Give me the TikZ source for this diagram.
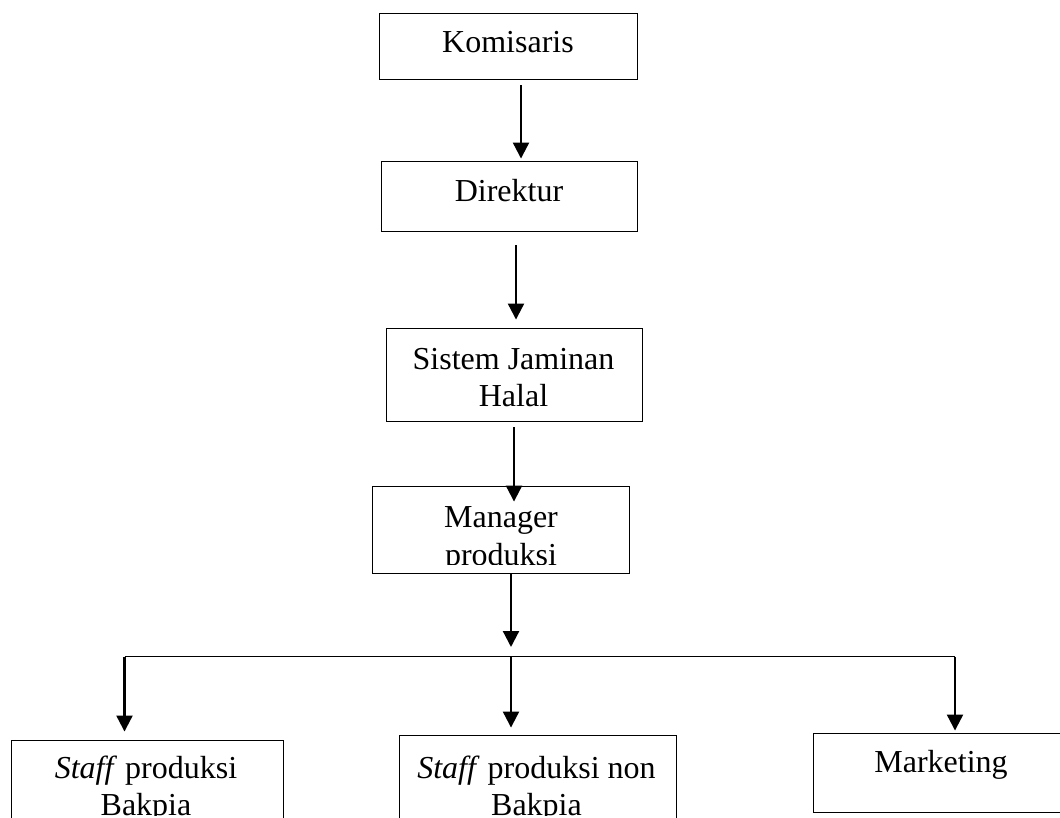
\documentclass[tikz,border=0pt]{standalone}
\usepackage{fontspec}
\setmainfont{Liberation Serif}
\usetikzlibrary{arrows.meta}
\begin{document}
\begin{tikzpicture}[x=1pt,y=-1pt,
  box/.style={draw,line width=0.9pt,inner sep=0pt,rectangle},
  txt/.style={inner sep=0pt,anchor=base,font=\fontsize{32}{37}\selectfont},
  arr/.style={line width=2.2pt,-{Triangle[length=16pt,width=16pt]}},
  link/.style={line width=1.3pt}]
\clip (0,0) rectangle (1060,818);
% boxes
\node[box,minimum width=258pt,minimum height=66pt] (kom) at (508,46) {};
\node[box,minimum width=256pt,minimum height=70pt] (dir) at (509,196) {};
\node[box,minimum width=256pt,minimum height=93pt] (sjh) at (514,374.5) {};
\node[box,minimum width=257pt,minimum height=87pt] (man) at (500.5,529.5) {};
\node[box,minimum width=272pt,minimum height=160pt] (s1) at (147,820) {};
\node[box,minimum width=277pt,minimum height=165pt] (s2) at (537.5,817.5) {};
\node[box,minimum width=256pt,minimum height=79pt] (mkt) at (941,772.5) {};
% texts
\node[txt] (tkom) at (508,53) {Komisaris};
\node[txt] (tdir) at (509,202) {Direktur};
\node[txt] (tsjh1) at (513.5,369) {Sistem Jaminan};
\node[txt] (tsjh2) at (513.5,406) {Halal};
\begin{scope}
\clip (372,486) rectangle (629,564);
\node[txt] (tman1) at (501,527) {Manager};
\node[txt] (tman2) at (501,565) {produksi};
\end{scope}
\begin{scope}
\clip (0,700) rectangle (1060,815.5);
\node[txt] (ts11) at (146,778) {\textit{Staff} produksi};
\node[txt] (ts12) at (146,815) {Bakpia};
\node[txt] (ts21) at (536.5,778) {\textit{Staff} produksi non};
\node[txt] (ts22) at (536.5,815) {Bakpia};
\end{scope}
\node[txt] (tmkt) at (941,772) {Marketing};
% junction
\coordinate (jl) at (124.5,656.5);
\coordinate (jm) at (511,656.5);
\coordinate (jr) at (955,656.5);
% connectors
\draw[arr] ([xshift=13pt,yshift=-6pt]kom.south) -- ([xshift=12pt,yshift=2pt]dir.north);
\draw[arr] ([xshift=7pt,yshift=-14pt]dir.south) -- ([xshift=2pt,yshift=8pt]sjh.north);
\draw[arr] ([yshift=-6pt]sjh.south) -- ([xshift=13.5pt,yshift=-16pt]man.north);
\draw[arr] ([xshift=10.5pt]man.south) -- ([yshift=9.5pt]jm);
\draw[link] (jl) -- (jr);
\draw[arr,shorten >=8pt] (jl) -- (jl |- s1.north);
\draw[arr,shorten >=7pt] (jm) -- (jm |- s2.north);
\draw[arr,shorten >=2pt] (jr) -- (jr |- mkt.north);
\end{tikzpicture}
\end{document}
